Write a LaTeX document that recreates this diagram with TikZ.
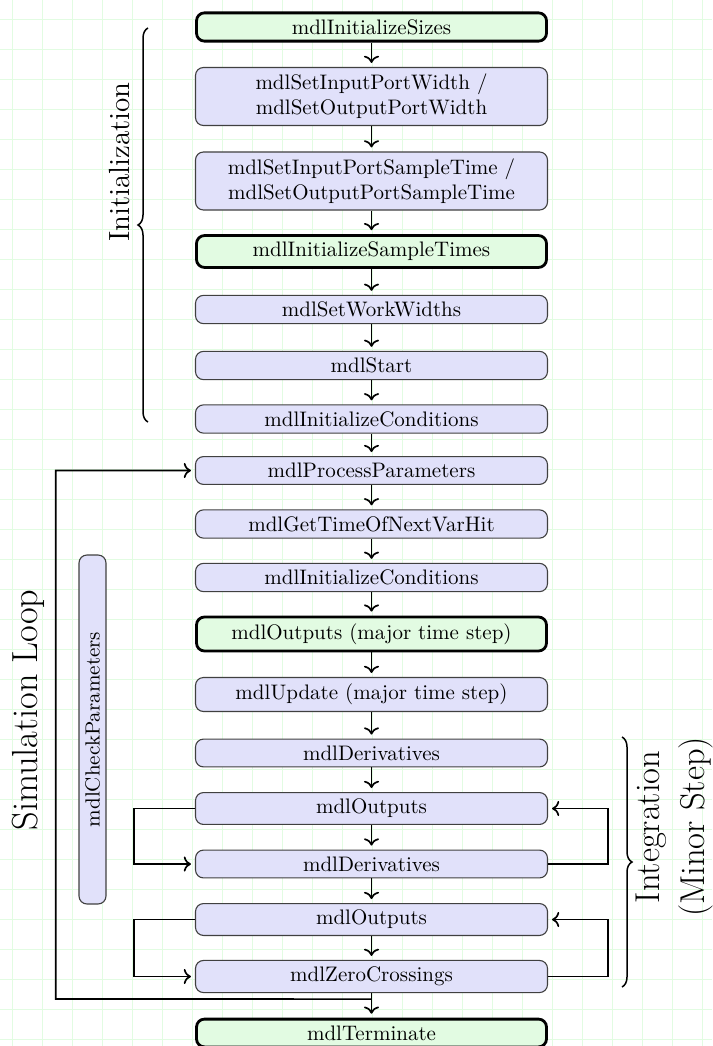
\documentclass[tikz,border=0pt]{standalone}
\usepackage{fontspec}
\newfontfamily\lmten{lmroman10-regular.otf}
\newfontfamily\lmnine{lmroman9-regular.otf}
\newfontfamily\lmtwelve{lmroman12-regular.otf}
\newfontfamily\lmseventeen{lmroman17-regular.otf}
\usetikzlibrary{decorations.pathreplacing,calc,arrows.meta}
\definecolor{boxblue}{RGB}{225,225,250}
\definecolor{boxgreen}{RGB}{226,251,226}
\definecolor{gridc}{RGB}{226,252,226}
\begin{document}
\begin{tikzpicture}[x=1pt,y=-1pt,
  box/.style={draw=black!75, fill=boxblue, rounded corners=8pt, line width=1.1pt,
    minimum width=352pt, inner ysep=6.5pt, align=center,
    font=\lmten\fontsize{21}{25.2}\selectfont},
  gbox/.style={box, draw=black, fill=boxgreen, line width=2.8pt, minimum width=350pt},
  arr/.style={-{To[scale=1.35]}, line width=1.7pt, shorten >=4pt},
  bigA/.style={font=\lmtwelve\fontsize{29.2}{35}\selectfont, rotate=90},
  bigB/.style={font=\lmseventeen\fontsize{36.3}{44}\selectfont, rotate=90},
  bigC/.style={font=\lmseventeen\fontsize{34.5}{42}\selectfont, rotate=90},
  brc/.style={decorate, decoration={brace, amplitude=10pt}, line width=1.5pt}]
\useasboundingbox (0,0) rectangle (712,1046);
% grid
\foreach \i in {0,...,23} \draw[gridc, line width=0.9pt] (12.3+30*\i,0) -- (12.3+30*\i,1046);
\foreach \j in {0,...,34} \draw[gridc, line width=0.9pt] (0,19.5+30*\j) -- (712,19.5+30*\j);
% boxes
\node[gbox] (n1) at (371.5,27) {mdlInitializeSizes};
\node[box] (n2) at (371.5,96.5) {mdlSetInputPortWidth /\\ mdlSetOutputPortWidth};
\node[box] (n3) at (371.5,181) {mdlSetInputPortSampleTime /\\ mdlSetOutputPortSampleTime};
\node[gbox] (n4) at (371.5,251.5) {mdlInitializeSampleTimes};
\node[box] (n5) at (371.5,309.5) {mdlSetWorkWidths};
\node[box] (n6) at (371.5,365.5) {mdlStart};
\node[box] (n7) at (371.5,419) {mdlInitializeConditions};
\node[box] (n8) at (371.5,470.5) {mdlProcessParameters};
\node[box] (n9) at (371.5,524) {mdlGetTimeOfNextVarHit};
\node[box] (n10) at (371.5,577.5) {mdlInitializeConditions};
\node[gbox] (n11) at (371.5,634) {mdlOutputs (major time step)};
\node[box] (n12) at (371.5,694.5) {mdlUpdate (major time step)};
\node[box] (n13) at (371.5,753) {mdlDerivatives};
\node[box] (n14) at (371.5,808.5) {mdlOutputs};
\node[box] (n15) at (371.5,864) {mdlDerivatives};
\node[box] (n16) at (371.5,919.5) {mdlOutputs};
\node[box] (n17) at (371.5,976.5) {mdlZeroCrossings};
\node[gbox] (n18) at (371.5,1033) {mdlTerminate};
% vertical arrows
\foreach \a/\b in {n1/n2,n2/n3,n3/n4,n4/n5,n5/n6,n6/n7,n7/n8,n8/n9,n9/n10,n10/n11,n11/n12,n12/n13,n13/n14,n14/n15,n15/n16,n16/n17,n17/n18}
  \draw[arr] (\a.south) -- (\b.north);
% check parameters box
\node[box, rotate=90, minimum width=349pt, minimum height=27pt, inner ysep=0pt,
  font=\lmnine\fontsize{20.5}{24}\selectfont] (cp) at (92.5,729.5) {mdlCheckParameters};
% simulation loop
\coordinate (lp) at ($(n17.south)+(0,6)$);
\coordinate (lc) at (55.7,999);
\draw[arr] (lp) -- (lc) |- (n8.west);
% inner loops
\draw[arr] (n14.west) -- ++(-61,0) |- (n15.west);
\draw[arr] (n16.west) -- ++(-61,0) |- (n17.west);
\draw[arr] (n15.east) -- ++(60,0) |- (n14.east);
\draw[arr] (n17.east) -- ++(60,0) |- (n16.east);
% braces and labels
\coordinate (ib1) at (148,422);
\coordinate (ib2) at (148,28);
\draw[brc] (ib1) -- (ib2);
\node[bigA] (lab1) at (120,162) {Initialization};
\coordinate (gb1) at (622,737);
\coordinate (gb2) at (622,987);
\draw[brc] (gb1) -- (gb2);
\node[bigC] (lab2) at (651,827) {Integration};
\node[bigC] (lab3) at (696,827) {(Minor Step)};
\node[bigB] (lab4) at (28,710) {Simulation Loop};
\end{tikzpicture}
\end{document}
